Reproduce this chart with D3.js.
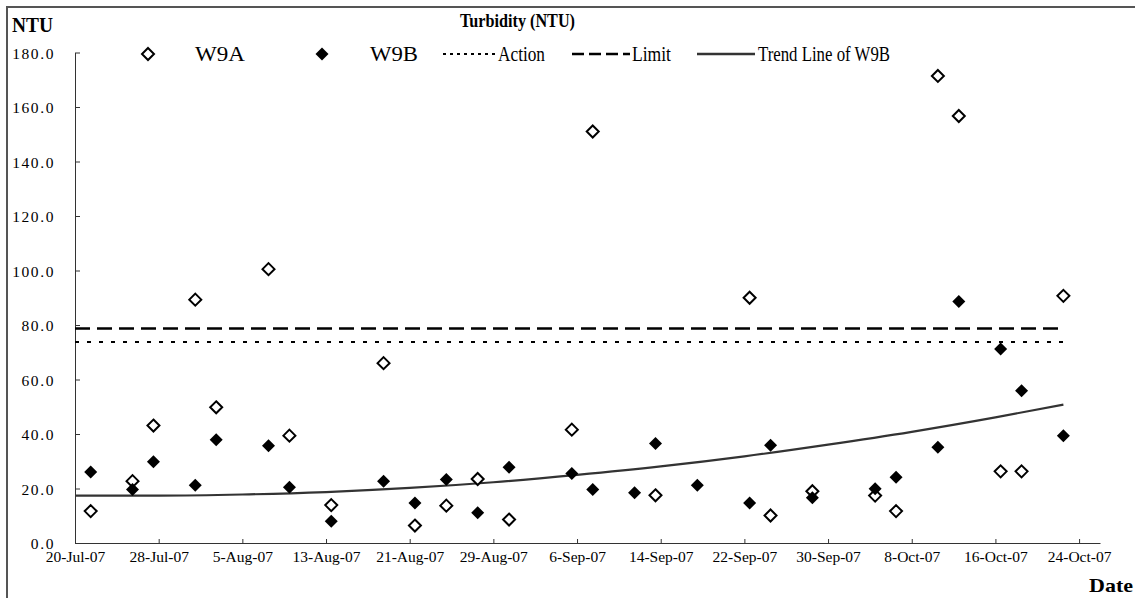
<!DOCTYPE html>
<html><head><meta charset="utf-8">
<script src="https://cdn.jsdelivr.net/npm/d3@7"></script>
<style>
body{margin:0;background:#fff}
svg{display:block}
text{font-family:"Liberation Serif","Times New Roman",serif;fill:#000}
</style>
</head><body>
<svg id="c" width="1135" height="598"></svg>
<script>
// ---- data ----
const sampleDates = ["2007-07-21","2007-07-25","2007-07-27","2007-07-31","2007-08-02","2007-08-07","2007-08-09","2007-08-13","2007-08-18","2007-08-21","2007-08-24","2007-08-27","2007-08-30","2007-09-05","2007-09-07","2007-09-11","2007-09-13","2007-09-17","2007-09-22","2007-09-24","2007-09-28","2007-10-04","2007-10-06","2007-10-10","2007-10-12","2007-10-16","2007-10-18","2007-10-22"];
const w9a = [11.7,22.7,43.1,89.3,49.8,100.5,39.4,13.9,66.0,6.4,13.7,23.5,8.6,41.6,151.0,null,17.5,null,90.0,10.1,19.0,17.4,11.7,171.4,156.7,26.3,26.3,90.7];
const w9b = [26.1,19.6,29.8,21.2,37.9,35.7,20.5,8.0,22.7,14.7,23.3,11.1,27.8,25.5,19.6,18.4,36.5,21.2,14.7,35.9,16.6,19.9,24.1,35.1,88.6,71.2,55.9,39.4];
const actionLevel = 73.8;
const limitLevel = 78.7;
const levelSpan = ["2007-07-20 00","2007-10-22 12"];
const trendDates = ["2007-07-20 00","2007-07-28 00","2007-08-05 00","2007-08-13 00","2007-08-21 00","2007-08-29 00","2007-09-06 00","2007-09-14 00","2007-09-22 00","2007-09-30 00","2007-10-08 00","2007-10-16 00","2007-10-22 12"];
const trendValues = [17.4,17.4,17.8,18.7,20.2,22.3,25.0,28.1,31.8,36.1,40.8,46.1,50.8];
const yTicks = [0,20,40,60,80,100,120,140,160,180];
const xTickDates = ["2007-07-20","2007-07-28","2007-08-05","2007-08-13","2007-08-21","2007-08-29","2007-09-06","2007-09-14","2007-09-22","2007-09-30","2007-10-08","2007-10-16","2007-10-24"];
const xDomain = ["2007-07-20","2007-10-26"];
const legendLabels = ["W9A","W9B","Action","Limit","Trend Line of W9B"];
const chartTitle = "Turbidity (NTU)";
const yTitle = "NTU";
const xTitle = "Date";

// ---- drawing ----
const pD = d3.timeParse("%Y-%m-%d");
const pDH = d3.timeParse("%Y-%m-%d %H");
const svg = d3.select("#c");

const x = d3.scaleTime().domain(xDomain.map(pD)).range([75, 1100]);
const y = d3.scaleLinear().domain([0, 180]).range([543, 52.5]);
const mid = s => d3.timeHour.offset(pD(s), 12); // points sit mid-day

// frame (only left/top visible)
svg.append("rect").attr("x",7).attr("y",7).attr("width",1300).attr("height",800)
  .attr("fill","none").attr("stroke","#555").attr("stroke-width",2);

// axes
const yAxis = d3.axisLeft(y).tickValues(yTicks).tickFormat(d3.format(".1f"))
  .tickSizeInner(-5).tickSizeOuter(0).tickPadding(20);
const gy = svg.append("g").attr("transform","translate(75,0)").call(yAxis);
gy.selectAll("text").attr("font-size",15.5).attr("letter-spacing","1.6px")
  .attr("font-family","'Liberation Serif',serif").attr("dy","0.36em");
const xAxis = d3.axisBottom(x).tickValues(xTickDates.map(pD)).tickFormat(d3.timeFormat("%-d-%b-%y"))
  .tickSizeInner(-4).tickSizeOuter(0).tickPadding(8);
const gx = svg.append("g").attr("transform","translate(0,543)").call(xAxis);
gx.selectAll("text").attr("font-size",15.5).attr("font-family","'Liberation Serif',serif");
[gx,gy].forEach(g=>{g.select(".domain").attr("stroke","#333");g.selectAll(".tick line").attr("stroke","#333");});

// horizontal level lines
const lv = levelSpan.map(pDH);
svg.append("line").attr("x1",x(lv[0])).attr("x2",x(lv[1])).attr("y1",y(limitLevel)).attr("y2",y(limitLevel))
  .attr("stroke","#000").attr("stroke-width",2.5).attr("stroke-dasharray","15,7");
svg.append("line").attr("x1",x(lv[0])).attr("x2",x(lv[1])).attr("y1",y(actionLevel)).attr("y2",y(actionLevel))
  .attr("stroke","#000").attr("stroke-width",2).attr("stroke-dasharray","4,8");

// trend line
const trend = trendDates.map((d,i)=>({d:pDH(d),v:trendValues[i]}));
svg.append("path").datum(trend)
  .attr("d", d3.line().x(p=>x(p.d)).y(p=>y(p.v)).curve(d3.curveMonotoneX))
  .attr("fill","none").attr("stroke","#333").attr("stroke-width",2.2);

// markers
const openDia = "M0,-6L6,0L0,6L-6,0Z";
const dia = "M0,-6.5L6.5,0L0,6.5L-6.5,0Z";
const ptsA = sampleDates.map((d,i)=>({d:mid(d),v:w9a[i]})).filter(p=>p.v!=null);
const ptsB = sampleDates.map((d,i)=>({d:mid(d),v:w9b[i]})).filter(p=>p.v!=null);
svg.append("g").selectAll("path").data(ptsA).join("path")
  .attr("d",openDia).attr("transform",p=>`translate(${x(p.d)},${y(p.v)})`)
  .attr("fill","#fff").attr("stroke","#000").attr("stroke-width",2);
svg.append("g").selectAll("path").data(ptsB).join("path")
  .attr("d",dia).attr("transform",p=>`translate(${x(p.d)},${y(p.v)})`)
  .attr("fill","#000");

// legend
const lg = svg.append("g");
const ly = 54;
lg.append("path").attr("d",openDia).attr("transform",`translate(148,${ly})`)
  .attr("fill","#fff").attr("stroke","#000").attr("stroke-width",2);
lg.append("path").attr("d",dia).attr("transform",`translate(322,${ly})`).attr("fill","#000");
lg.append("line").attr("x1",443).attr("x2",495).attr("y1",ly).attr("y2",ly)
  .attr("stroke","#000").attr("stroke-width",2).attr("stroke-dasharray","3,4");
lg.append("line").attr("x1",572).attr("x2",630).attr("y1",ly).attr("y2",ly)
  .attr("stroke","#000").attr("stroke-width",2.5).attr("stroke-dasharray","12,5");
lg.append("line").attr("x1",697).attr("x2",755).attr("y1",ly).attr("y2",ly)
  .attr("stroke","#333").attr("stroke-width",2.5);
const lx = [195,370,498,632,758];
const lw = [50,48,47,39,132];
legendLabels.forEach((t,i)=>{
  lg.append("text").attr("x",lx[i]).attr("y",61).attr("font-size",21)
    .attr("textLength",lw[i]).attr("lengthAdjust","spacingAndGlyphs").text(t);
});

// titles
svg.append("text").attr("x",460).attr("y",27)
  .attr("font-size",19).attr("font-weight","bold")
  .attr("textLength",115).attr("lengthAdjust","spacingAndGlyphs").text(chartTitle);
svg.append("text").attr("x",12).attr("y",32).attr("font-size",20).attr("font-weight","bold")
  .attr("textLength",41).attr("lengthAdjust","spacingAndGlyphs").text(yTitle);
svg.append("text").attr("x",1089).attr("y",592)
  .attr("font-size",19).attr("font-weight","bold")
  .attr("textLength",44).attr("lengthAdjust","spacingAndGlyphs").text(xTitle);
</script>
</body></html>
